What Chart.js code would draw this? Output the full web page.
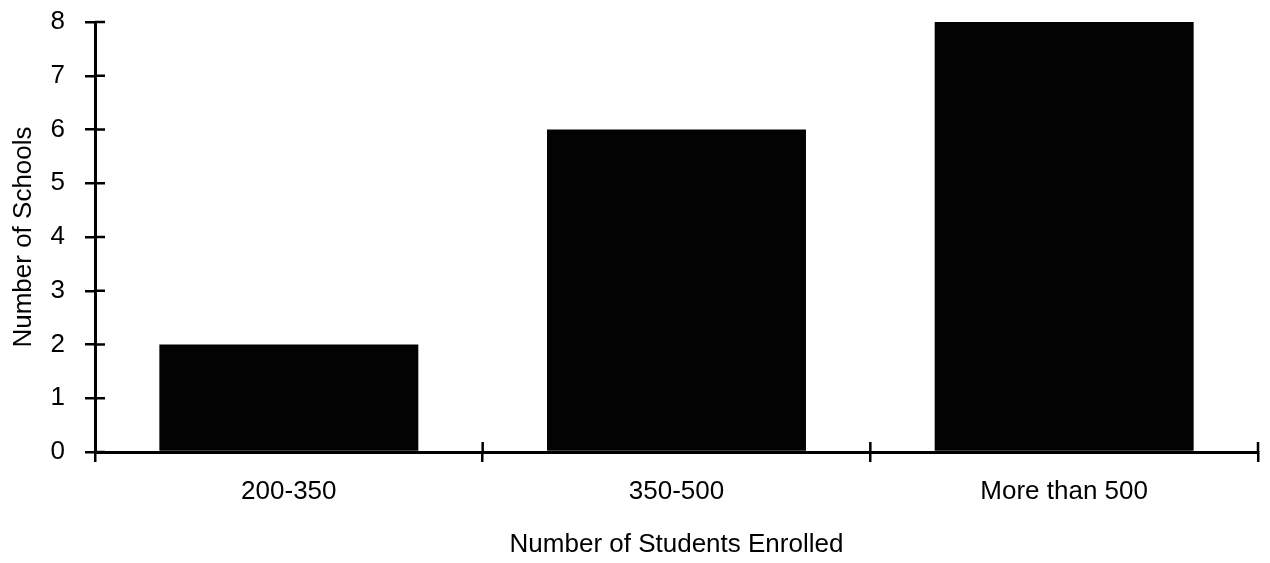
<!DOCTYPE html>
<html>
<head>
<meta charset="utf-8">
<script src="https://cdn.jsdelivr.net/npm/chart.js@4"></script>
<style>
  html, body { margin: 0; padding: 0; background: #fff; }
  #wrap { width: 1270px; height: 563px; position: relative; }
</style>
</head>
<body>
<div id="wrap"><canvas id="c" width="1270" height="563"></canvas></div>
<script>
const categories = ["200-350", "350-500", "More than 500"];
const schoolCounts = [2, 6, 8];
const yTickValues = [0, 1, 2, 3, 4, 5, 6, 7, 8];
const xTitle = "Number of Students Enrolled";
const yTitle = "Number of Schools";

const FONT = "'Liberation Sans', Arial, Helvetica, sans-serif";

const innerTicks = {
  id: 'innerTicks',
  afterDatasetsDraw(chart) {
    const ctx = chart.ctx;
    const x = chart.scales.x, y = chart.scales.y;
    ctx.save();
    ctx.strokeStyle = '#000';
    ctx.lineWidth = 2.5;
    ctx.beginPath();
    y.ticks.forEach((t, i) => {
      const py = y.getPixelForTick(i);
      ctx.moveTo(x.left, py);
      ctx.lineTo(x.left + 10, py);
    });
    for (let i = 0; i < categories.length; i++) {
      const px = x.getPixelForValue(i + 0.5);
      ctx.moveTo(px, y.bottom);
      ctx.lineTo(px, y.bottom - 10);
    }
    ctx.stroke();
    ctx.restore();
  }
};

new Chart(document.getElementById('c'), {
  type: 'bar',
  data: {
    labels: categories,
    datasets: [{
      data: schoolCounts,
      backgroundColor: '#030303',
      borderWidth: 0,
      barPercentage: 0.668,
      categoryPercentage: 1.0
    }]
  },
  options: {
    responsive: false,
    animation: false,
    devicePixelRatio: 1,
    layout: { padding: { top: 22, right: 12, left: 0, bottom: 0 } },
    plugins: { legend: { display: false }, tooltip: { enabled: false } },
    scales: {
      x: {
        afterFit(s) { s.height = 111; s.paddingLeft = 0; s.paddingRight = 0; },
        grid: { offset: true, drawOnChartArea: false, drawTicks: true, tickLength: 10, color: '#000', lineWidth: 2.5 },
        border: { display: true, color: '#000', width: 3 },
        ticks: { color: '#000', padding: 14, font: { family: FONT, size: 26 }, maxRotation: 0 },
        title: { display: true, text: xTitle, color: '#000', font: { family: FONT, size: 26 }, padding: { top: 0, bottom: 3 } }
      },
      y: {
        min: 0,
        max: 8,
        afterFit(s) { s.width = 95; s.paddingTop = 0; s.paddingBottom = 0; },
        afterBuildTicks(s) { s.ticks = yTickValues.map(v => ({ value: v })); },
        grid: { drawOnChartArea: false, drawTicks: true, tickLength: 10, color: '#000', lineWidth: 2.5 },
        border: { display: true, color: '#000', width: 3 },
        ticks: { color: '#000', padding: 20, font: { family: FONT, size: 26 }, stepSize: 1 },
        title: { display: true, text: yTitle, color: '#000', font: { family: FONT, size: 26 }, padding: { top: 8, bottom: 0 } }
      }
    }
  },
  plugins: [innerTicks]
});
</script>
</body>
</html>
